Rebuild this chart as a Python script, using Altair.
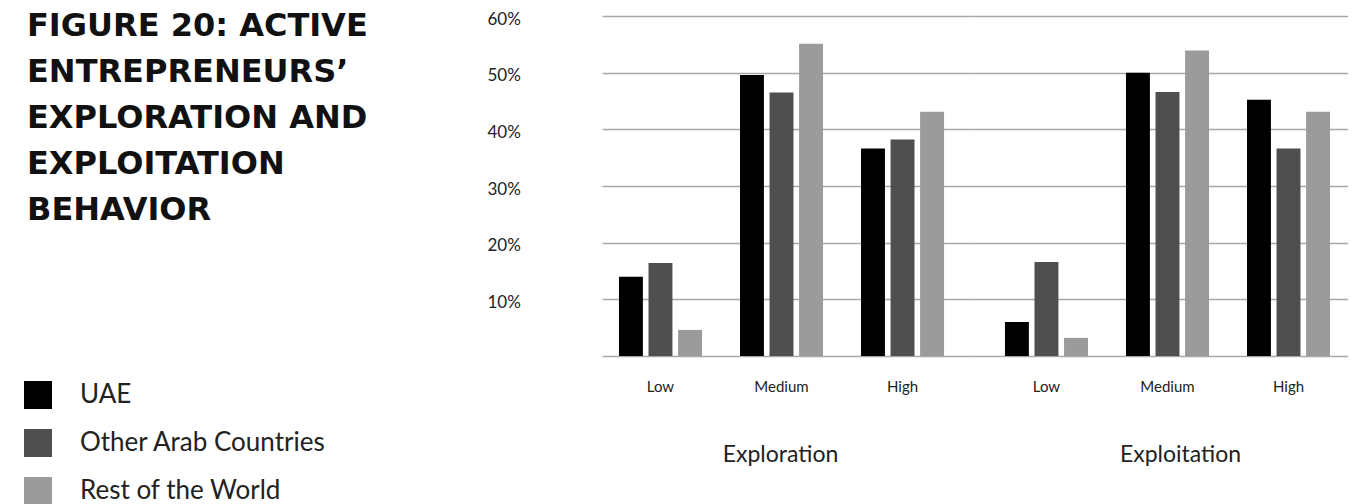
import altair as alt
import pandas as pd

groups = ["Exploration", "Exploitation"]
levels = ["Low", "Medium", "High"]
series = ["UAE", "Other Arab Countries", "Rest of the World"]
colors = ["#000000", "#4f4f4f", "#9b9b9b"]

uae_values = {"Exploration": [14.0, 49.6, 36.6], "Exploitation": [6.0, 50.0, 45.2]}
other_arab_values = {"Exploration": [16.4, 46.5, 38.2], "Exploitation": [16.6, 46.6, 36.6]}
rest_world_values = {"Exploration": [4.6, 55.1, 43.1], "Exploitation": [3.2, 53.9, 43.1]}

y_ticks = [0, 10, 20, 30, 40, 50, 60]
title_lines = ["FIGURE 20: ACTIVE", "ENTREPRENEURS\u2019", "EXPLORATION AND", "EXPLOITATION", "BEHAVIOR"]

rows = []
for g in groups:
    for i, lv in enumerate(levels):
        for s, vals in zip(series, [uae_values, other_arab_values, rest_world_values]):
            rows.append({"group": g, "level": lv, "series": s, "value": vals[g][i]})
df = pd.DataFrame(rows)

PW = 373
GRID = "#a8a8a8"


def panel(g, align, first, title_x):
    y_axis = alt.Axis(
        values=y_ticks,
        labelExpr="datum.value == 0 ? '' : datum.value + '%'",
        labels=first,
        labelAlign="left",
        labelPadding=115,
        labelFont="Lato",
        labelFontSize=17,
        labelColor="#222222",
        labelBaseline="middle",
        labelOffset=3,
        ticks=False,
        tickSize=0,
        domain=False,
        grid=True,
        gridColor=GRID,
        gridWidth=1.4,
        title=None,
    )
    bars = alt.Chart(df[df.group == g]).mark_bar().encode(
        x=alt.X(
            "level:N",
            sort=levels,
            scale=alt.Scale(paddingInner=0.314, paddingOuter=0.198, align=align),
            axis=alt.Axis(
                title=g,
                labelAngle=0,
                ticks=False,
                tickSize=0,
                domain=False,
                labelFont="Lato",
                labelFontSize=15,
                labelColor="#222222",
                labelBaseline="alphabetic",
                labelPadding=35,
                titleFont="Lato",
                titleFontSize=23,
                titleFontWeight="normal",
                titleColor="#222222",
                titleBaseline="alphabetic",
                titleY=105,
                titleX=title_x,
                titleAlign="center",
            ),
        ),
        xOffset=alt.XOffset("series:N", sort=series,
                            scale=alt.Scale(paddingInner=0.19, paddingOuter=0)),
        y=alt.Y("value:Q", scale=alt.Scale(domain=[0, 60], nice=False), axis=y_axis),
        color=alt.Color(
            "series:N",
            sort=series,
            scale=alt.Scale(domain=series, range=colors),
            legend=alt.Legend(
                title=None,
                orient="none",
                legendX=-578,
                legendY=365,
                direction="vertical",
                symbolType="square",
                symbolSize=784,
                symbolStrokeWidth=0,
                labelFont="Lato",
                labelFontSize=26,
                labelColor="#222222",
                labelOffset=28,
                labelLimit=0,
                rowPadding=20,
                padding=0,
            ),
        ),
    ).properties(width=PW, height=340)
    if first:
        title = alt.Chart(pd.DataFrame({"t": [0]})).mark_text(
            text=title_lines,
            font="DejaVu Sans",
            fontWeight="bold",
            fontSize=32,
            lineHeight=46,
            align="left",
            baseline="alphabetic",
            color="#111111",
        ).encode(x=alt.value(-575), y=alt.value(20))
        return alt.layer(bars, title)
    return bars


chart = alt.hconcat(
    panel("Exploration", 0.354, True, 178),
    panel("Exploitation", 0.625, False, 205),
    spacing=0,
).properties(
    padding={"left": 16, "top": 2, "right": 0, "bottom": 0},
    background="white",
).configure_view(stroke=None)

chart.save("out.html", embed_options={"renderer": "svg", "actions": False})
